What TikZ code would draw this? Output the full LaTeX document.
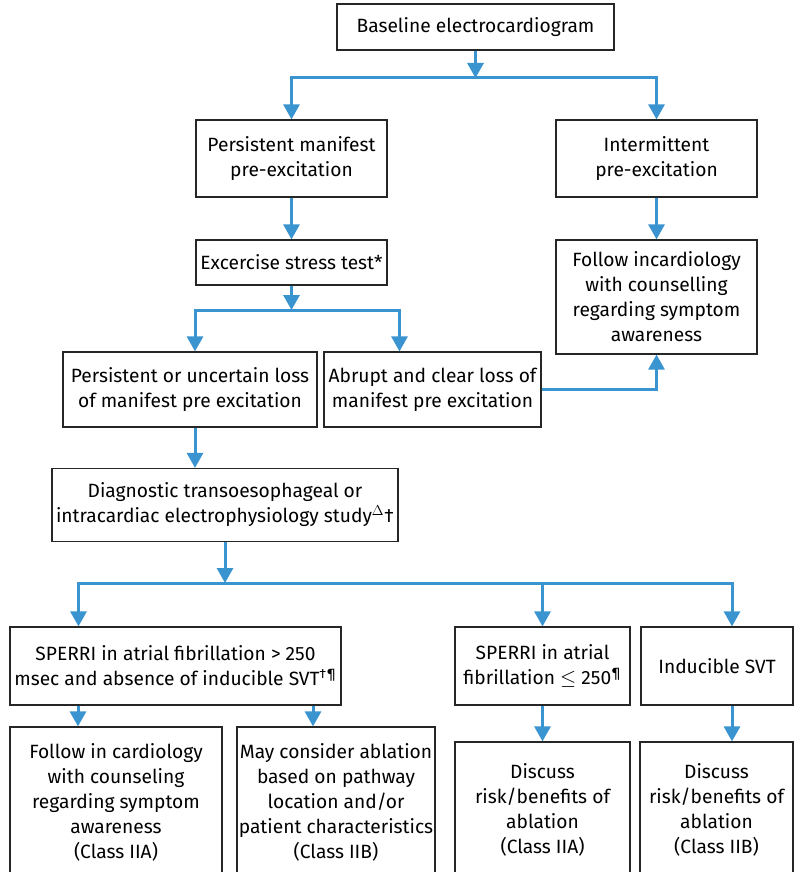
\documentclass[tikz,border=0pt]{standalone}
\usepackage{fontspec}
\setmainfont{Fira Sans}
\usetikzlibrary{arrows.meta,calc}
\definecolor{flowblue}{RGB}{58,148,208}

\begin{document}
\begin{tikzpicture}[x=1pt, y=-1pt, font=\fontsize{19.2}{25}\selectfont,
  box/.style={draw=black!85, line width=1.2pt, align=center, inner sep=0pt},
  arr/.style={draw=flowblue, line width=3pt, -{Triangle[length=15pt,width=16pt]}},
  link/.style={draw=flowblue, line width=3pt}]
  \useasboundingbox (0,0) rectangle (794,872);
  \clip (0,0) rectangle (794,872);
  % top of the tree
  \node[box, minimum width=277, minimum height=46] (base) at (475.5,27) {Baseline electrocardiogram};
  \node[box, minimum width=191, minimum height=77] (pman) at (291.5,158.5) {Persistent manifest\\pre-excitation};
  \node[box, minimum width=201, minimum height=77] (inter) at (656.5,158.5) {Intermittent\\pre-excitation};
  \node[box, minimum width=191, minimum height=45] (stress) at (291.5,262.5) {Excercise stress test*};
  \node[box, minimum width=201, minimum height=114] (follow) at (656.5,297) {Follow incardiology\\with counselling\\regarding symptom\\awareness};
  % stress test outcomes
  \node[box, minimum width=254, minimum height=75] (ploss) at (190,389.5) {Persistent or uncertain loss\\of manifest pre excitation};
  \node[box, minimum width=217, minimum height=75] (abrupt) at (432.5,389.5) {Abrupt and clear loss of\\manifest pre excitation};
  \node[box, minimum width=346, minimum height=73] (diag) at (225,505) {Diagnostic transoesophageal or\\intracardiac electrophysiology study$^{\Delta}$\textdagger};
  % EP study outcomes
  \node[box, minimum width=331, minimum height=78] (sperA) at (175.5,666) {SPERRI in atrial fibrillation > 250\\msec and absence of inducible SVT\textsuperscript{\textdagger\P}};
  \node[box, minimum width=175, minimum height=78] (sperB) at (542.5,666) {SPERRI in atrial\\fibrillation $\leq$ 250\textsuperscript{\P}};
  \node[box, minimum width=152, minimum height=78] (svt) at (717,666) {Inducible SVT};
  % bottom boxes run off the page
  \node[box, minimum width=212, minimum height=150] (fcard) at (116,802) {Follow in cardiology\\with counseling\\regarding symptom\\awareness\\(Class IIA)};
  \node[box, minimum width=198, minimum height=150] (mayabl) at (336,802) {May consider ablation\\based on pathway\\location and/or\\patient characteristics\\(Class IIB)};
  \node[box, minimum width=175, minimum height=135] (discA) at (542.5,809.5) {Discuss\\risk/benefits of\\ablation\\(Class IIA)};
  \node[box, minimum width=153, minimum height=135] (discB) at (716.5,809.5) {Discuss\\risk/benefits of\\ablation\\(Class IIB)};
  % junctions
  \coordinate (j1) at (475.5,78);
  \coordinate (j2) at (291.5,310);
  \coordinate (j3) at (225,583);
  % connectors
  \draw[arr] (base) -- (j1);
  \draw[arr] (j1) -| (pman.north);
  \draw[arr] (j1) -| (inter.north);
  \draw[arr] (pman) -- (stress);
  \draw[arr] (inter) -- (follow);
  \draw[arr] (stress) -- (j2);
  \draw[arr] (j2) -| ([xshift=5]ploss.north);
  \draw[arr] (j2) -| ([xshift=-33]abrupt.north);
  \draw[arr] (abrupt.east) -| (follow.south);
  \draw[arr] ([xshift=5]ploss.south) -- ([xshift=5]ploss.south |- diag.north);
  \draw[arr] (diag) -- (j3);
  \draw[arr] (j3) -| ([xshift=-97]sperA.north);
  \draw[arr] (j3) -| (sperB.north);
  \draw[arr] (j3) -| ([xshift=15]svt.north);
  \draw[arr] ([xshift=-38]fcard.north |- sperA.south) -- ([xshift=-38]fcard.north);
  \draw[arr] ([xshift=-23]mayabl.north |- sperA.south) -- ([xshift=-23]mayabl.north);
  \draw[arr] (sperB) -- (discA);
  \draw[arr] ([xshift=15.5]discB.north |- svt.south) -- ([xshift=15.5]discB.north);
\end{tikzpicture}
\end{document}
